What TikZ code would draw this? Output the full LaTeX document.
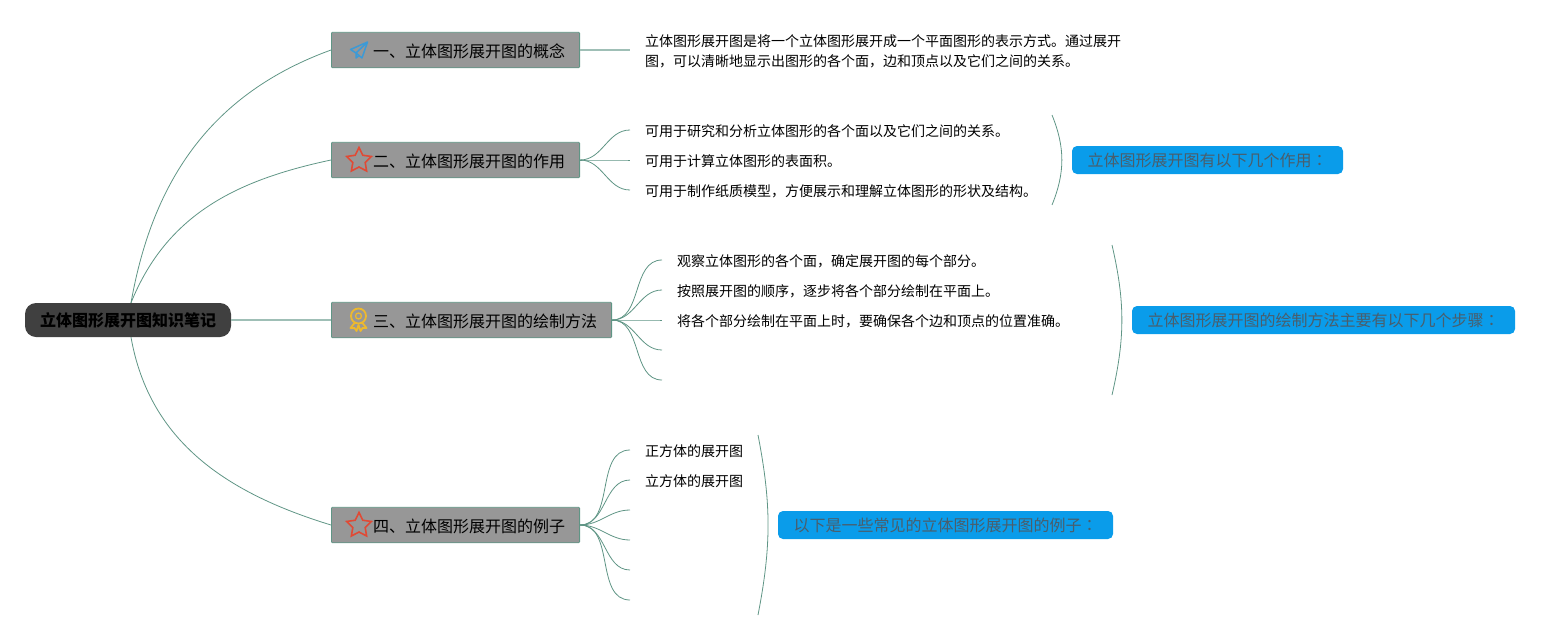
\documentclass[tikz,border=0pt]{standalone}
\usepackage{fontspec}
\setmainfont{Noto Sans CJK SC}
\newfontfamily\colonfont{Noto Sans CJK TC}
\usetikzlibrary{shapes.geometric}
\definecolor{linegreen}{HTML}{5F9585}
\definecolor{rootgray}{HTML}{404040}
\definecolor{topicgray}{HTML}{979797}
\definecolor{notblue}{HTML}{0A9CEA}
\definecolor{notetext}{HTML}{4A5E6C}
\definecolor{starred}{HTML}{E04A35}
\definecolor{planeblue}{HTML}{3C9AD6}
\definecolor{medalgold}{HTML}{EDB92E}
\def\bigtext{\fontsize{16}{20}\selectfont}
\def\smalltext{\fontsize{14}{20}\selectfont}
\def\colon{{\colonfont ：}}
\tikzset{
  root/.style={fill=rootgray,rounded corners=11pt,minimum width=206pt,minimum height=34pt,inner sep=0pt,font=\bigtext\bfseries},
  topic/.style={draw=linegreen,fill=topicgray,rounded corners=1pt,line width=.8pt,minimum height=35.5pt,inner xsep=14.6pt,inner ysep=0pt,text height=14pt,text depth=0pt,font=\bigtext},
  leaf/.style={inner xsep=15pt,inner ysep=0pt,align=left,font=\smalltext},
  oneline/.style={leaf,text height=13pt,text depth=0pt},
  note/.style={fill=notblue,rounded corners=5pt,minimum height=28pt,inner sep=0pt,text=notetext,font=\bigtext},
  branch/.style={line width=.8pt,draw=linegreen},
  flat/.style={line width=1.3pt,draw=linegreen!60},
  starmark/.style={star,star points=5,star point ratio=2,minimum size=26pt,inner sep=0pt,draw=starred,line width=1.6pt}
}
\begin{document}
\begin{tikzpicture}[x=1pt,y=-1pt]
\useasboundingbox (0,0) rectangle (1560,640);
%
\node [root] at (128,320) (root) {立体图形展开图知识笔记};
%
\node [topic,anchor=west] at (331,50) (concept) {\hspace*{27pt}一、立体图形展开图的概念};
\node [topic,anchor=west] at (331,160) (use) {\hspace*{27pt}二、立体图形展开图的作用};
\node [topic,anchor=west] at (331,320) (method) {\hspace*{27pt}三、立体图形展开图的绘制方法};
\node [topic,anchor=west] at (331,525) (sample) {\hspace*{27pt}四、立体图形展开图的例子};
%
\node [leaf,anchor=west] at (630,51) (concept text) {立体图形展开图是将一个立体图形展开成一个平面图形的表示方式。通过展开\\图，可以清晰地显示出图形的各个面，边和顶点以及它们之间的关系。};
%
\node [oneline,anchor=west] at (630,130) (use a) {可用于研究和分析立体图形的各个面以及它们之间的关系。};
\node [oneline,anchor=west] at (630,160) (use b) {可用于计算立体图形的表面积。};
\node [oneline,anchor=west] at (630,190) (use c) {可用于制作纸质模型，方便展示和理解立体图形的形状及结构。};
%
\node [oneline,anchor=west] at (662,260) (method a) {观察立体图形的各个面，确定展开图的每个部分。};
\node [oneline,anchor=west] at (662,290) (method b) {按照展开图的顺序，逐步将各个部分绘制在平面上。};
\node [oneline,anchor=west] at (662,320) (method c) {将各个部分绘制在平面上时，要确保各个边和顶点的位置准确。};
\coordinate (method d) at (662,350);
\coordinate (method e) at (662,380);
%
\node [oneline,anchor=west] at (630,450) (sample a) {正方体的展开图};
\node [oneline,anchor=west] at (630,480) (sample b) {立方体的展开图};
\coordinate (sample c) at (630,510);
\coordinate (sample d) at (630,540);
\coordinate (sample e) at (630,570);
\coordinate (sample f) at (630,600);
%
\node [note,minimum width=271pt] at (1207.5,160) (use note) {立体图形展开图有以下几个作用\colon};
\node [note,minimum width=383pt] at (1323.5,320) (method note) {立体图形展开图的绘制方法主要有以下几个步骤\colon};
\node [note,minimum width=335pt] at (945.5,525) (sample note) {以下是一些常见的立体图形展开图的例子\colon};
%
\coordinate (use top) at (1052,115);
\coordinate (use bottom) at (1052,205);
\coordinate (method top) at (1112,245);
\coordinate (method bottom) at (1112,395);
\coordinate (sample top) at (758,435);
\coordinate (sample bottom) at (758,615);
%
\path[branch] ([xshift=3pt]root.north) edge [out=80,in=200] (concept.west);
\path[branch] ([xshift=3pt]root.north) edge [out=68,in=192] (use.west);
\path[flat] (root.east) edge (method.west);
\path[branch] ([xshift=3pt]root.south) edge [out=-80,in=163] (sample.west);
%
\path[flat] (concept.east) edge (concept.east -| concept text.west);
\foreach \x in {a,b,c}
  \path[branch] (use.east) edge [out=0,in=180] (use \x.west);
\foreach \x in {a,b,c}
  \path[branch] (method.east) edge [out=0,in=180] (method \x.west);
\foreach \x in {d,e}
  \path[branch] (method.east) edge [out=0,in=180] (method \x);
\foreach \x in {a,b}
  \path[branch] (sample.east) edge [out=0,in=180] (sample \x.west);
\foreach \x in {c,d,e,f}
  \path[branch] (sample.east) edge [out=0,in=180] (sample \x);
%
\path[branch] (use top) edge [bend left=22] (use bottom);
\path[branch] (method top) edge [bend left=13] (method bottom);
\path[branch] (sample top) edge [bend left=11] (sample bottom);
%
\draw[planeblue,line width=1.5pt,line join=round,shift={(359,50)}] (8.5,-8) -- (-8.5,-0.5) -- (-3,3) -- (3,8) -- cycle (8.5,-8) -- (-3,3) -- (-3,8) -- (0,5.5);
\node [starmark] at (359,160.5) (use star) {};
\node [starmark] at (359,525.5) (sample star) {};
\node [circle,draw=medalgold,line width=1.8pt,minimum size=15pt,inner sep=0pt] at (358.5,316) (medal) {};
\node [circle,draw=medalgold,line width=1.3pt,minimum size=6pt,inner sep=0pt] at (358.5,316) (medal core) {};
\draw[medalgold,line width=1.8pt,line join=round,shift={(358.5,316)}] (-4,7) -- (-8,12) -- (-4,12) -- (-2,15) -- (0,9) -- (2,15) -- (4,12) -- (8,12) -- (4,7);
\end{tikzpicture}
\end{document}
